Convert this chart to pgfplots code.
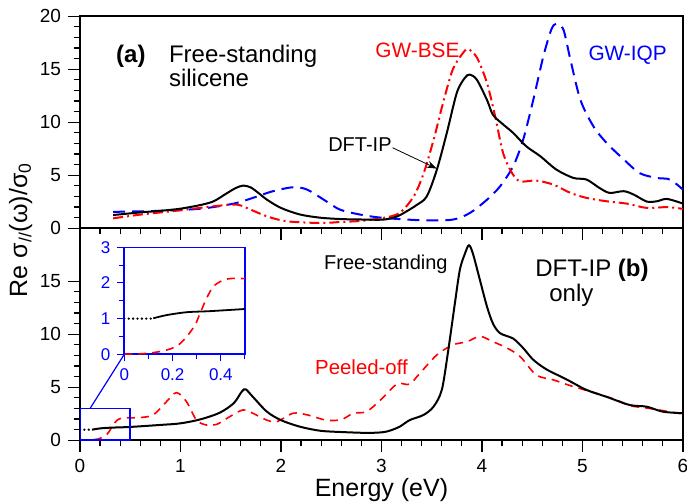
\documentclass[border=0pt]{standalone}
\usepackage{fontspec}
\setmainfont{Liberation Sans}
\usepackage{pgfplots}
\pgfplotsset{compat=1.18}
\usetikzlibrary{arrows.meta}
\begin{document}
\begin{tikzpicture}
\pgfplotsset{
  panel/.style={
    scale only axis, width=301.5pt, height=106pt,
    xmin=0, xmax=6, ymin=0, ymax=20,
    axis line style={line width=0.9pt},
    tick align=outside,
    xtick={0,1,...,6}, minor x tick num=4,
    minor y tick num=4,
    xtick pos=bottom, ytick pos=left,
    major tick length=6pt, minor tick length=3pt,
    every tick/.style={line width=0.6pt, black},
    tick label style={font=\fontsize{9.5}{11}\selectfont},
    /pgf/number format/assume math mode=true,
  }
}
% ---------------- bottom panel (b) ----------------
\begin{axis}[panel, name=bot, at={(0,0)}, anchor=south west,
  ytick={0,5,10,15},
  xlabel={Energy (eV)},
  xlabel style={font=\fontsize{12.5}{14}\selectfont, at={(rel axis cs:0.5,0)}, anchor=center, yshift=-25pt},
]
\addplot[red, line width=0.8pt, dash pattern=on 4pt off 3pt, smooth, tension=0.5] coordinates {
(0,0.02) (0.1,0.04) (0.18,0.12) (0.22,0.26) (0.26,0.49) (0.29,0.82) (0.31,1.15) (0.34,1.57) (0.37,1.9) (0.41,2.08) (0.45,2.13) (0.5,2.12) (0.6,2.15) (0.73,2.4) (0.86,3.64) (0.96,4.5) (1.06,3.64) (1.16,1.9) (1.26,1.44) (1.36,1.5) (1.49,2.23) (1.62,2.86) (1.72,2.55) (1.86,1.9) (1.96,1.76) (2.12,2.55) (2.26,2.4) (2.45,1.9) (2.6,1.95) (2.72,2.55) (2.85,2.7) (2.99,3.8) (3.12,5.06) (3.18,5.38) (3.28,5.3) (3.38,6.3) (3.55,8.05) (3.71,9.0) (3.85,9.3) (3.98,9.8) (4.11,9.3) (4.25,8.7) (4.38,7.9) (4.54,6.16) (4.71,5.7) (4.91,5.06) (5.14,4.43) (5.34,3.8) (5.47,3.27) (5.67,3.0) (6.0,2.48)
};
\addplot[black, line width=1.3pt, line cap=round, dash pattern=on 0pt off 2.2pt] coordinates {
(0,1.0) (0.12,1.0)
};
\addplot[black, line width=1pt, smooth, tension=0.5] coordinates {
(0.12,1.0) (0.18,1.1) (0.26,1.17) (0.36,1.21) (0.5,1.26) (0.8,1.45) (1.0,1.6) (1.2,1.98) (1.39,2.6) (1.53,3.5) (1.61,4.6) (1.65,4.8) (1.72,4.1) (1.86,2.7) (2.0,1.9) (2.19,1.28) (2.39,0.9) (2.6,0.78) (2.85,0.7) (3.0,0.75) (3.08,0.9) (3.18,1.28) (3.28,1.9) (3.42,2.4) (3.52,3.2) (3.6,4.75) (3.66,8.2) (3.73,12.9) (3.78,16.1) (3.83,17.6) (3.87,18.4) (3.91,17.6) (3.98,15.1) (4.05,12.6) (4.11,11.0) (4.18,10.1) (4.31,9.6) (4.41,8.7) (4.51,7.6) (4.64,6.7) (4.84,5.75) (5.04,4.75) (5.24,4.1) (5.47,3.33) (5.64,3.17) (5.8,2.7) (6.0,2.55)
};
\draw[blue, line width=0.8pt] (axis cs:0,0) rectangle (axis cs:0.5,3);
\coordinate (c1) at (axis cs:0.1,3);
\node[anchor=base west, font=\fontsize{10}{12}\selectfont] at (axis cs:2.36,16.07) {Free-standing};
\node[anchor=base west, font=\fontsize{12}{14}\selectfont] at (axis cs:4.46,15.43) {DFT-IP \textbf{(b)}};
\node[anchor=base west, font=\fontsize{12}{14}\selectfont] at (axis cs:4.6,13.07) {only};
\node[anchor=base west, red, font=\fontsize{10.2}{12}\selectfont] at (axis cs:2.27,6.25) {Peeled-off};
\end{axis}
% ---------------- top panel (a) ----------------
\begin{axis}[panel, name=top, at={(0,106pt)}, anchor=south west,
  ytick={0,5,10,15,20},
  xticklabels={},
]
\addplot[blue, line width=1pt, dash pattern=on 6pt off 3.5pt, smooth, tension=0.5] coordinates {
(0.33,1.55) (0.8,1.65) (1.2,1.85) (1.53,2.33) (1.72,2.87) (1.92,3.5) (2.12,3.87) (2.26,3.65) (2.45,2.55) (2.59,1.75) (2.79,1.29) (3.02,0.98) (3.42,0.75) (3.71,0.82) (3.88,1.45) (4.05,2.7) (4.18,3.96) (4.31,5.85) (4.41,8.37) (4.51,12.1) (4.61,16.2) (4.69,18.75) (4.74,19.3) (4.81,18.75) (4.88,15.9) (4.98,12.1) (5.11,9.6) (5.24,8.05) (5.41,6.5) (5.57,5.2) (5.74,4.75) (5.87,4.6) (6.0,3.65)
};
\addplot[red, line width=1pt, dash pattern=on 5pt off 2pt on 1pt off 2pt, smooth, tension=0.5] coordinates {
(0.33,0.94) (0.6,1.29) (1.0,1.7) (1.33,2.08) (1.53,2.24) (1.6,2.15) (1.66,1.92) (1.86,1.13) (2.06,0.66) (2.39,0.5) (2.6,0.6) (2.8,0.7) (3.02,0.98) (3.18,1.45) (3.32,3.0) (3.42,5.2) (3.52,8.4) (3.62,12.1) (3.71,15.0) (3.80,16.4) (3.86,16.9) (3.95,16.1) (4.05,13.7) (4.13,10.6) (4.21,7.1) (4.30,5.2) (4.38,4.43) (4.54,4.5) (4.71,4.12) (4.88,3.34) (5.04,2.87) (5.24,2.55) (5.44,2.33) (5.64,1.92) (5.84,2.0) (6.0,1.83)
};
\addplot[black, line width=1pt, smooth, tension=0.5] coordinates {
(0.33,1.25) (0.6,1.5) (0.8,1.65) (1.0,1.85) (1.2,2.2) (1.33,2.55) (1.46,3.3) (1.55,3.8) (1.625,4.03) (1.7,3.85) (1.78,3.3) (1.86,2.7) (2.0,1.92) (2.19,1.3) (2.39,1.0) (2.6,0.87) (2.8,0.83) (3.02,0.82) (3.15,1.1) (3.25,1.6) (3.35,2.2) (3.45,3.0) (3.55,5.5) (3.65,9.0) (3.75,12.8) (3.83,14.2) (3.88,14.5) (3.95,14.0) (4.05,12.1) (4.11,10.7) (4.21,9.8) (4.31,9.0) (4.44,7.74) (4.58,6.8) (4.74,5.54) (4.91,4.75) (5.04,4.6) (5.17,3.8) (5.27,3.34) (5.41,3.5) (5.51,3.18) (5.64,2.52) (5.74,2.55) (5.84,2.77) (6.0,2.33)
};
\node[anchor=base west, font=\fontsize{12}{14}\selectfont\bfseries] at (axis cs:0.29,15.6) {(a)};
\node[anchor=base west, font=\fontsize{12}{14}\selectfont] at (axis cs:0.816,15.6) {Free-standing};
\node[anchor=base west, font=\fontsize{12}{14}\selectfont] at (axis cs:0.816,13.4) {silicene};
\node[anchor=base west, red, font=\fontsize{10.4}{12}\selectfont] at (axis cs:2.87,16.07) {GW-BSE};
\node[anchor=base west, blue, font=\fontsize{10.4}{12}\selectfont] at (axis cs:4.99,15.87) {GW-IQP};
\node[anchor=base west, font=\fontsize{10}{12}\selectfont] at (axis cs:2.40,7.26) {DFT-IP};
\draw[-{Stealth[length=5pt,width=3.5pt]}, line width=0.4pt] (axis cs:3.11,7.6) -- (axis cs:3.55,5.63);
\end{axis}
% ---------------- inset ----------------
\begin{axis}[name=ins, at={(22.15pt,43pt)}, anchor=south west,
  scale only axis, width=60.35pt, height=53.5pt,
  xmin=0, xmax=0.5, ymin=0, ymax=3,
  axis background/.style={fill=white},
  axis line style={blue, line width=0.8pt},
  xtick={0,0.2,0.4}, minor xtick={0.1,0.3,0.5},
  ytick={0,1,2,3}, minor ytick={0.5,1.5,2.5},
  tick align=outside, xtick pos=bottom, ytick pos=left,
  major tick length=3.5pt, minor tick length=2.5pt,
  every tick/.style={blue, line width=0.5pt},
  tick label style={blue, font=\fontsize{8.5}{10}\selectfont},
  /pgf/number format/assume math mode=true,
]
\addplot[red, line width=0.8pt, dash pattern=on 4pt off 3pt, smooth, tension=0.5] coordinates {
(0,0.0) (0.05,0.01) (0.1,0.03) (0.15,0.08) (0.19,0.15) (0.224,0.26) (0.258,0.49) (0.293,0.82) (0.314,1.15) (0.341,1.57) (0.369,1.9) (0.41,2.08) (0.45,2.13) (0.5,2.12)
};
\addplot[black, line width=1.3pt, line cap=round, dash pattern=on 0pt off 2.2pt] coordinates {
(0,1.0) (0.12,1.0)
};
\addplot[black, line width=0.9pt, smooth, tension=0.5] coordinates {
(0.12,1.01) (0.176,1.1) (0.258,1.18) (0.355,1.21) (0.5,1.27)
};
\end{axis}
\draw[blue, line width=0.6pt] (c1) -- (ins.south west);
\node[rotate=90, anchor=base, font=\fontsize{12.5}{14}\selectfont] at (-26.5pt,105.2pt) {Re σ\textsubscript{//}(ω)/σ\textsubscript{0}};
\pgfresetboundingbox
\useasboundingbox (-40pt,-31.85pt) rectangle (303.5pt,220.15pt);
\end{tikzpicture}
\end{document}
